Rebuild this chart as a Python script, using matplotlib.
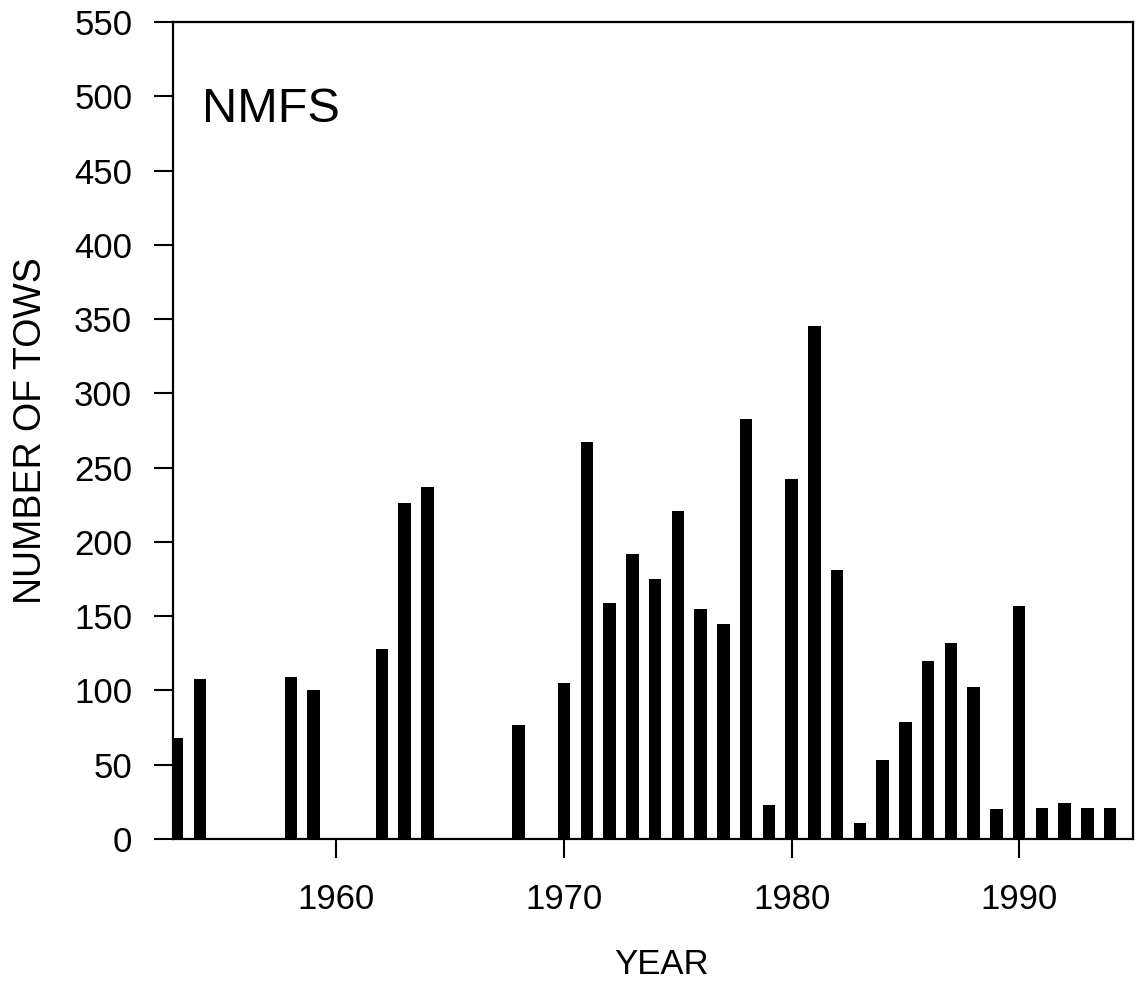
import matplotlib
matplotlib.use("Agg")
import matplotlib.pyplot as plt

years = [1953, 1954, 1958, 1959, 1962, 1963, 1964, 1968, 1970, 1971, 1972,
         1973, 1974, 1975, 1976, 1977, 1978, 1979, 1980, 1981, 1982, 1983,
         1984, 1985, 1986, 1987, 1988, 1989, 1990, 1991, 1992, 1993, 1994]
tows = [68, 108, 109, 100, 128, 226, 237, 77, 105, 267, 159,
        192, 175, 221, 155, 145, 283, 23, 242, 345, 181, 11,
        53, 79, 120, 132, 102, 20, 157, 21, 24, 21, 21]
xticks = [1960, 1970, 1980, 1990]
yticks = list(range(0, 551, 50))

plt.rcParams['font.family'] = ['Liberation Sans', 'DejaVu Sans']

fig = plt.figure(figsize=(11.39, 9.81), dpi=100)
ax = fig.add_axes([0.1515, 0.1448, 0.8432, 0.8328])

ax.bar(years, tows, width=0.55, color='black', edgecolor='none')

ax.set_xlim(1952.8, 1995.0)
ax.set_ylim(0, 550)
ax.set_xticks(xticks)
ax.set_yticks(yticks)

for sp in ax.spines.values():
    sp.set_linewidth(1.6)
    sp.set_color('black')

ax.tick_params(axis='both', direction='out', length=14, width=1.5,
               labelsize=25, colors='black')
ax.tick_params(axis='x', pad=18)
ax.tick_params(axis='y', pad=15)

ax.set_ylabel('NUMBER OF TOWS', fontsize=27)
ax.yaxis.set_label_coords(-0.129, 0.5)

fig.text(662 / 1139, 1 - 974 / 981, 'YEAR', fontsize=25,
         ha='center', va='baseline')

ax.text(0.0306, 0.8776, 'NMFS', transform=ax.transAxes, fontsize=35,
        ha='left', va='baseline')

fig.savefig('out.png', dpi=100)
